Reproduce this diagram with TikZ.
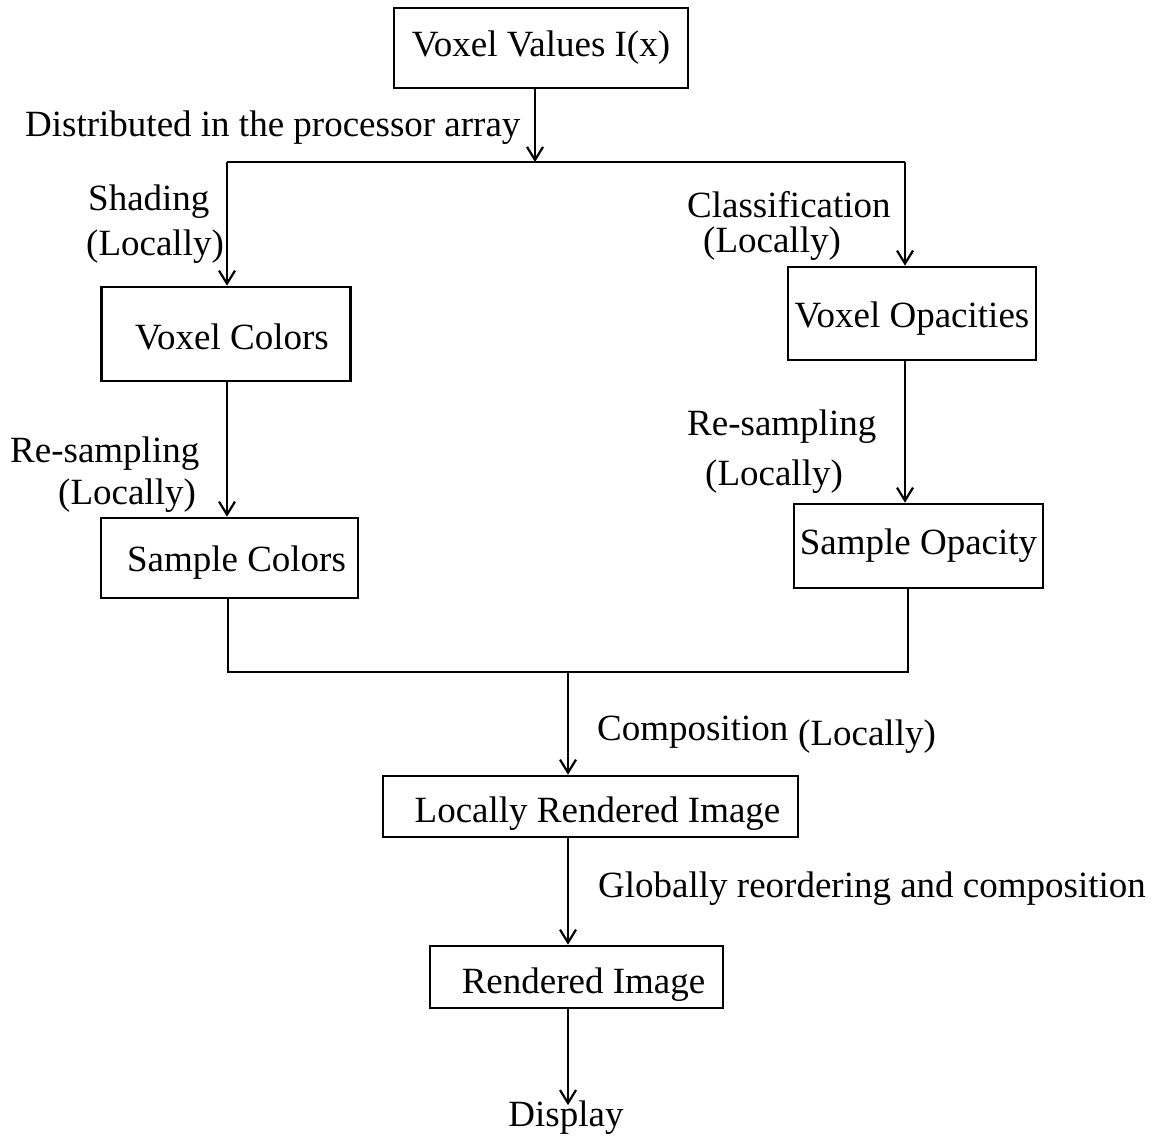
\documentclass[tikz,border=0pt]{standalone}
\usepackage{fontspec}
\setmainfont{Liberation Serif}
\usetikzlibrary{arrows.meta}
\newcommand{\lowertxt}[2]{\raisebox{-#1}[\height][\depth]{#2}}
\begin{document}
\begin{tikzpicture}[x=1pt,y=-1pt,
  every node/.style={font=\fontsize{37}{44}\selectfont},
  boxnode/.style={draw,line width=2.6pt,inner sep=0pt,align=center},
  lbl/.style={anchor=base west,inner sep=0pt},
  conn/.style={line width=2.5pt},
  arr/.style={conn,-{Straight Barb[length=13pt,width=16pt,line width=2.2pt]}}]
\useasboundingbox[fill=white] (0,0) rectangle (1155,1139);
% boxes
\node[boxnode,minimum width=294pt,minimum height=80pt] (vv) at (541,48) {Voxel Values I(x)};
\node[boxnode,minimum width=249pt,minimum height=94pt] (vc) at (226,334) {\hspace{12pt}\lowertxt{3pt}{Voxel Colors}};
\node[boxnode,minimum width=248pt,minimum height=93pt] (vo) at (912,313.5) {\lowertxt{5pt}{Voxel Opacities}};
\node[boxnode,minimum width=257pt,minimum height=80pt] (sc) at (229.5,558) {\hspace{14pt}\lowertxt{5pt}{Sample Colors}};
\node[boxnode,minimum width=249pt,minimum height=84pt] (so) at (918.5,546) {Sample Opacity};
\node[boxnode,minimum width=415pt,minimum height=61pt] (lri) at (590.5,806.5) {\hspace{14pt}\lowertxt{7pt}{Locally Rendered Image}};
\node[boxnode,minimum width=293pt,minimum height=62pt] (ri) at (576.5,977) {\hspace{14pt}\lowertxt{8pt}{Rendered Image}};
\node[inner sep=0pt,anchor=base] (disp) at (566,1126) {Display};
% junction points
\coordinate (j0) at (535,162);
\coordinate (jl) at (227,162);
\coordinate (jr) at (905,162);
\coordinate (bl) at (228,672);
\coordinate (br) at (908,672);
\coordinate (bm) at (568,672);
% connectors
\draw[arr] (vv.south -| j0) -- (j0);
\draw[conn] (jl) -- (jr);
\draw[arr] (jl) -- (jl |- vc.north);
\draw[arr] (jr) -- (jr |- vo.north);
\draw[arr] (vc.south -| jl) -- (sc.north -| jl);
\draw[arr] (vo.south -| jr) -- (so.north -| jr);
\draw[conn] (sc.south -| bl) -- (bl) -- (br) -- (so.south -| br);
\draw[arr] (bm) -- (lri.north -| bm);
\draw[arr] (lri.south -| bm) -- (ri.north -| bm);
\draw[arr] (ri.south -| bm) -- ([yshift=-5pt]disp.north -| bm);
% labels
\node[lbl] (l1) at (25,137) {Distributed in the processor array};
\node[lbl] (l2) at (88,211) {Shading};
\node[lbl] (l3) at (86,256) {(Locally)};
\node[lbl] (l4) at (687,218) {Classification};
\node[lbl] (l5) at (703,253) {(Locally)};
\node[lbl] (l6) at (10,462) {Re-sampling};
\node[lbl] (l7) at (58,504) {(Locally)};
\node[lbl] (l8) at (687,435) {Re-sampling};
\node[lbl] (l9) at (705,485) {(Locally)};
\node[lbl] (l10) at (597,740) {Composition};
\node[lbl] (l11) at (798,745) {(Locally)};
\node[lbl] (l12) at (598,897) {Globally reordering and composition};
\end{tikzpicture}
\end{document}
